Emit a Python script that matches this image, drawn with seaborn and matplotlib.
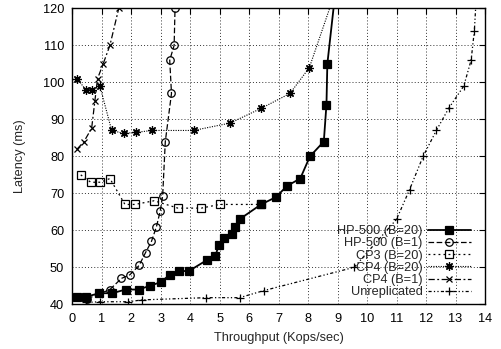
import matplotlib
matplotlib.use("Agg")
import matplotlib.pyplot as plt
import numpy as np
import pandas as pd
import seaborn as sns

# Measured latency vs. throughput for each configuration
hp500_b20_x = [0.16, 0.45, 0.9, 1.35, 1.8, 2.25, 2.62, 3.0, 3.3, 3.62, 3.95,
               4.57, 4.85, 4.96, 5.13, 5.41, 5.53, 5.67, 6.4, 6.91, 7.28, 7.73,
               8.06, 8.53, 8.62, 8.65, 9.0]
hp500_b20_y = [42, 42, 43, 43, 44, 44, 45, 46, 48, 49, 49,
               52, 53, 56, 58, 59, 61, 63, 67, 69, 72, 74,
               80, 84, 94, 105, 130]

hp500_b1_x = [0.5, 1.27, 1.66, 1.95, 2.26, 2.48, 2.68, 2.85, 2.98, 3.06,
              3.15, 3.36, 3.3, 3.45, 3.48]
hp500_b1_y = [41.5, 44, 47, 48, 50.5, 54, 57, 61, 65.3, 69.3,
              84, 97, 106, 110, 120]

cp3_b20_x = [0.28, 0.62, 0.95, 1.27, 1.78, 2.12, 2.77, 3.58, 4.37, 4.99, 6.4]
cp3_b20_y = [75, 73, 73, 74, 67, 67, 68, 66, 66, 67, 67]

cp4_b20_x = [0.16, 0.45, 0.67, 0.93, 1.33, 1.74, 2.17, 2.71, 4.11, 5.35,
             6.41, 7.38, 8.04, 9.2]
cp4_b20_y = [101, 98, 98, 99, 87, 86.2, 86.5, 87, 87, 89,
             93, 97, 104, 131]

cp4_b1_x = [0.16, 0.39, 0.65, 0.76, 0.85, 1.04, 1.27, 1.57]
cp4_b1_y = [82, 84, 87.6, 95, 101, 105, 110, 120]

unrep_x = [0.46, 0.93, 1.89, 2.37, 4.54, 5.67, 6.49, 9.56, 11.0, 11.44,
           11.9, 12.35, 12.77, 13.28, 13.53, 13.64, 13.74]
unrep_y = [40.5, 40.7, 40.7, 41.2, 41.8, 41.8, 43.7, 50, 63, 71,
           80, 87, 93, 99, 106, 114, 128]

x_ticks = list(range(0, 15))
y_ticks = list(range(40, 121, 10))

series = [
    ("HP-500 (B=20)", hp500_b20_x, hp500_b20_y,
     dict(marker="s", markerfacecolor="black", markersize=5.4, linewidth=1.3,
          linestyle="-")),
    ("HP-500 (B=1)", hp500_b1_x, hp500_b1_y,
     dict(marker="o", markerfacecolor="none", markersize=5.4, linewidth=0.9,
          linestyle=(0, (4.5, 2)))),
    ("CP3 (B=20)", cp3_b20_x, cp3_b20_y,
     dict(marker="s", markerfacecolor="none", markersize=5.4, linewidth=0.9,
          linestyle=(0, (1.5, 2.5)))),
    ("CP4 (B=20)", cp4_b20_x, cp4_b20_y,
     dict(marker=(8, 2, 0), markerfacecolor="none", markersize=6, linewidth=0.8,
          linestyle=(0, (1, 1.2)))),
    ("CP4 (B=1)", cp4_b1_x, cp4_b1_y,
     dict(marker="x", markerfacecolor="none", markersize=5, linewidth=0.9,
          linestyle=(0, (5, 2, 1.5, 2)))),
    ("Unreplicated", unrep_x, unrep_y,
     dict(marker="+", markerfacecolor="none", markersize=5.5, linewidth=0.9,
          linestyle=(0, (2.5, 1.8, 1, 1.8, 1, 1.8)))),
]

sns.set_style("white")
plt.rcParams["font.family"] = ["Liberation Sans", "DejaVu Sans"]
FS = 9.2

fig = plt.figure(figsize=(5.01, 3.49), dpi=100)
ax = fig.add_axes([0.1447, 0.128, 0.8233, 0.848])

for name, xs, ys, style in series:
    df = pd.DataFrame({"throughput": xs, "latency": ys})
    sns.lineplot(data=df, x="throughput", y="latency", ax=ax, sort=False,
                 color="black", markeredgecolor="black", markeredgewidth=0.9,
                 label=name, **style)

ax.set_xlim(0, 14)
ax.set_ylim(40, 120)
ax.set_xticks(x_ticks)
ax.set_yticks(y_ticks)
ax.grid(True, color="#333333", linestyle=(0, (1, 2.2)), linewidth=0.7)
ax.set_axisbelow(True)
for sp in ax.spines.values():
    sp.set_visible(True)
    sp.set_color("black")
    sp.set_linewidth(1.0)
ax.tick_params(direction="in", length=4, width=0.8, top=True, right=True,
               labelsize=FS, pad=6, colors="black")
ax.set_xlabel("Throughput (Kops/sec)", fontsize=FS, labelpad=5)
ax.set_ylabel("Latency (ms)", fontsize=FS, labelpad=12)

leg = ax.legend(loc="lower right", bbox_to_anchor=(0.965, 0.02),
                frameon=False, markerfirst=False, fontsize=FS,
                handlelength=3.3, handletextpad=0.45, labelspacing=0.02,
                borderpad=0, borderaxespad=0)

fig.savefig("out.png", dpi=100, facecolor="white")
